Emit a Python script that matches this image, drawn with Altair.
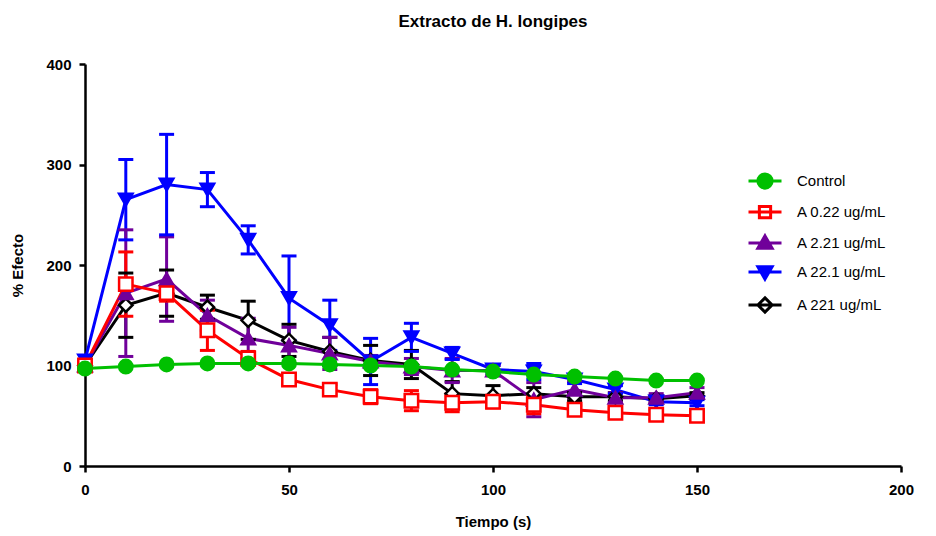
import altair as alt
import pandas as pd

times = [0, 10, 20, 30, 40, 50, 60, 70, 80, 90, 100, 110, 120, 130, 140, 150]

series_names = ["Control", "A 0.22 ug/mL", "A 2.21 ug/mL", "A 22.1 ug/mL", "A 221 ug/mL"]
colors = ["#00c000", "#ff0000", "#70009a", "#0000ff", "#000000"]
fills = ["#00c000", "#ffffff", "#70009a", "#0000ff", "#ffffff"]
shapes = ["circle", "square", "triangle-up", "triangle-down", "diamond"]
legend_shapes = [
    "M-2.2,0H2.2M-0.95,0A0.95,0.95,0,1,1,0.95,0A0.95,0.95,0,1,1,-0.95,0Z",
    "M-2.2,0H2.2M-0.75,-0.75H0.75V0.75H-0.75Z",
    "M-2.2,0H2.2M0,-0.95L0.95,0.7H-0.95Z",
    "M-2.2,0H2.2M0,0.95L0.95,-0.7H-0.95Z",
    "M-2.2,0H2.2M0,-0.95L0.95,0L0,0.95L-0.95,0Z",
]

control = [97, 99, 101, 102, 102, 102, 101, 100, 99, 96, 94, 91, 89, 87, 85, 85]
control_err = [0, 0, 0, 0, 0, 0, 0, 0, 0, 0, 0, 0, 0, 0, 0, 0]
a022 = [100, 181, 172, 135, 107, 86, 76, 69, 65, 63, 64, 61, 56, 53, 51, 50]
a022_err = [0, 32, 8, 20, 7, 5, 5, 7, 10, 9, 6, 9, 4, 4, 5, 4]
a221 = [100, 172, 186, 150, 127, 120, 112, 104, 99, 95, 95, 66, 76, 68, 68, 73]
a221_err = [0, 63, 42, 15, 20, 18, 16, 6, 8, 12, 5, 17, 8, 5, 4, 5]
a221b = [105, 265, 280, 275, 225, 167, 140, 104, 128, 112, 96, 94, 86, 76, 64, 63]
a221b_err = [0, 40, 50, 17, 14, 42, 25, 23, 14, 6, 4, 8, 4, 4, 3, 3]
a2210 = [100, 160, 172, 158, 145, 125, 114, 105, 101, 72, 70, 72, 69, 69, 67, 70]
a2210_err = [0, 32, 23, 12, 19, 16, 14, 15, 14, 12, 10, 6, 4, 4, 3, 3]

# drawing order: A 221 first ... Control last
series_data = [
    ("A 221 ug/mL", a2210, a2210_err),
    ("A 22.1 ug/mL", a221b, a221b_err),
    ("A 2.21 ug/mL", a221, a221_err),
    ("A 0.22 ug/mL", a022, a022_err),
    ("Control", control, control_err),
]

rows = []
for name, vals, errs in series_data:
    for t, v, e in zip(times, vals, errs):
        rows.append({"s": name, "t": t, "v": v, "e": e})
df = pd.DataFrame(rows)

FONT = "Liberation Sans"

xenc = alt.X("t:Q", scale=alt.Scale(domain=[0, 200]),
             axis=alt.Axis(values=[0, 50, 100, 150, 200], title="Tiempo (s)", labelFlush=False))
def yenc(field):
    return alt.Y(field, scale=alt.Scale(domain=[0, 400]),
                 axis=alt.Axis(values=[0, 100, 200, 300, 400], title="% Efecto", labelFlush=False))

col = alt.Color("s:N", scale=alt.Scale(domain=series_names, range=colors), legend=None)

base = alt.Chart(df)

lines = base.mark_line(strokeWidth=3).encode(x=xenc, y=yenc("v:Q"), color=col, order="t:Q")

err_base = base.transform_filter("datum.e > 0").transform_calculate(
    lo="datum.v - datum.e", hi="datum.v + datum.e")
rules = err_base.mark_rule(strokeWidth=3).encode(x=xenc, y=yenc("lo:Q"), y2="hi:Q", color=col)
cap_hi = err_base.mark_tick(orient="horizontal", size=15, thickness=3, opacity=1).encode(
    x=xenc, y=yenc("hi:Q"), color=col)
cap_lo = err_base.mark_tick(orient="horizontal", size=15, thickness=3, opacity=1).encode(
    x=xenc, y=yenc("lo:Q"), color=col)

points = base.mark_point(size=180, strokeWidth=2.5, opacity=1).encode(
    x=xenc, y=yenc("v:Q"),
    shape=alt.Shape("s:N", scale=alt.Scale(domain=series_names, range=shapes), legend=None),
    fill=alt.Fill("s:N", scale=alt.Scale(domain=series_names, range=fills), legend=None),
    stroke=alt.Stroke("s:N", scale=alt.Scale(domain=series_names, range=colors), legend=None),
)

leg = alt.Legend(orient="none", legendX=671, legendY=108, title=None, padding=0,
                 labelFont=FONT, labelFontSize=15, labelColor="#000000",
                 symbolSize=225, symbolStrokeWidth=3, labelOffset=23, rowPadding=5,
                 symbolOpacity=1)

legend_layer = base.transform_filter("datum.t < 0").mark_point(strokeWidth=3, opacity=1).encode(
    x=xenc, y=yenc("v:Q"),
    shape=alt.Shape("s:N", scale=alt.Scale(domain=series_names, range=legend_shapes), legend=leg),
    fill=alt.Fill("s:N", scale=alt.Scale(domain=series_names, range=fills), legend=leg),
    stroke=alt.Stroke("s:N", scale=alt.Scale(domain=series_names, range=colors), legend=leg),
)

chart = alt.layer(lines, rules, cap_hi, cap_lo, points, legend_layer).resolve_scale(
    shape="independent", fill="independent", stroke="independent"
).properties(
    width=816, height=402,
    title=alt.TitleParams("Extracto de H. longipes", font=FONT, fontSize=17, fontWeight="bold",
                          anchor="middle", offset=26, color="#000000"),
    autosize=alt.AutoSizeParams(type="none"),
    padding={"left": 85, "top": 64, "right": 35, "bottom": 70},
).configure_view(stroke=None).configure_axis(
    grid=False, domainColor="#000000", domainWidth=2.5, tickColor="#000000", tickWidth=2.5,
    tickSize=6, labelFont=FONT, labelFontSize=15, labelFontWeight="bold", labelColor="#000000",
    titleFont=FONT, titleFontSize=15, titleFontWeight="bold", titleColor="#000000",
    labelPadding=8,
).configure_axisX(titlePadding=17, labelPadding=10).configure_axisY(titlePadding=20)

chart.save("out.html", embed_options={"renderer": "svg", "actions": False})
